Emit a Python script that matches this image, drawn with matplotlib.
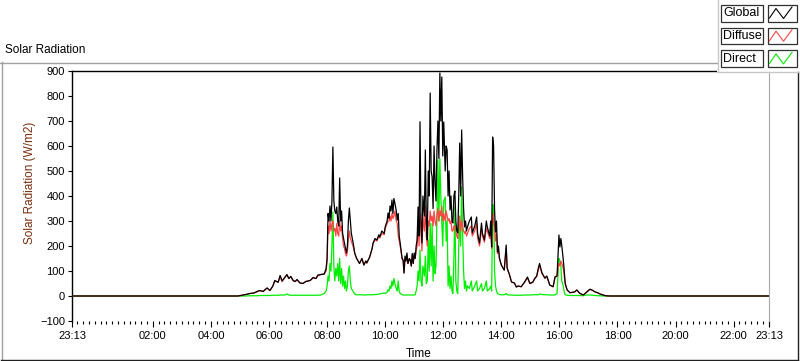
import matplotlib.pyplot as plt
from matplotlib.patches import Rectangle
from matplotlib.lines import Line2D

plt.rcParams['font.family'] = ['Liberation Sans', 'DejaVu Sans']

# time of each reading, minutes since midnight (-47 = 23:13 the day before)
minutes = [
    -47, 240, 296, 304, 312, 321, 329, 335, 341, 348, 352, 356, 362, 368, 372, 379, 383, 387,
    393, 397, 401, 405, 410, 414, 418, 424, 430, 436, 445, 451, 457, 461, 467, 474, 478,
    480, 482, 484, 486, 488, 490, 492, 494, 496, 498, 500, 502, 504, 506, 508, 510, 512, 514,
    516, 518, 520, 522, 524, 526, 528, 530, 535, 537, 541, 543, 547, 552, 556, 560, 562, 566,
    568, 573, 575, 579, 583, 587, 589, 593, 598,
    600, 604, 606, 608, 610, 612, 614, 616, 618, 620, 623, 625, 627, 629, 631, 633, 635, 637,
    639, 641, 643, 645, 647, 650, 652, 654, 656, 658, 660, 662, 664, 666,
    668, 670, 672, 674, 676, 678, 681, 683, 685, 687, 689, 691, 693, 695, 697, 699, 701, 703,
    705, 707, 709, 711, 713, 715, 717, 719, 721, 724, 726, 728, 730, 732, 734, 736, 738, 740,
    742, 744, 746, 748, 750, 752, 754, 756, 758, 760, 762, 764, 766, 768, 770,
    774, 778, 780, 785, 789, 791, 795, 799, 801, 805, 809, 811, 816, 818, 820, 822, 824, 826,
    828, 830, 832, 834, 836,
    840, 844, 846, 850, 852, 857, 861, 867, 871, 875, 881, 888, 894, 899, 905, 909, 913, 917,
    919, 924, 930, 934, 940, 947, 951, 955, 957, 959, 961, 963, 965, 968, 970, 972, 976, 982,
    988, 992, 996, 1002, 1009, 1013, 1017, 1023, 1029, 1033, 1040, 1044, 1050, 1056, 1064, 1393,
]

global_rad = [
    0, 0, 0, 3, 6, 10, 12, 18, 22, 18, 26, 32, 22, 40, 62, 55, 82, 60,
    75, 86, 70, 78, 62, 58, 66, 52, 50, 58, 62, 74, 70, 84, 86, 88, 110,
    150, 330, 300, 360, 300, 380, 596, 380, 340, 330, 356, 300, 280, 472, 300, 340, 252, 230,
    210, 190, 172, 200, 300, 352, 300, 252, 200, 172, 150, 144, 130, 150, 124, 140, 132, 148,
    156, 190, 212, 230, 224, 245, 236, 260, 250,
    276, 300, 332, 310, 360, 340, 384, 330, 390, 372, 340, 304, 330, 240, 212, 180, 150, 144,
    92, 160, 140, 172, 130, 150, 144, 120, 170, 130, 172, 150, 200, 224,
    356, 240, 697, 300, 212, 400, 320, 584, 300, 224, 500, 400, 812, 500, 476, 350, 600, 452,
    380, 584, 700, 550, 892, 700, 876, 560, 696, 500, 600, 584, 400, 500, 344, 400, 300, 292,
    400, 420, 300, 260, 252, 400, 612, 400, 664, 480, 350, 276, 300, 260, 276,
    300, 316, 252, 280, 316, 250, 212, 292, 250, 224, 300, 276, 240, 300, 196, 636, 600, 344,
    256, 300, 176, 200, 152,
    124, 110, 104, 204, 112, 84, 56, 52, 36, 40, 37, 56, 76, 50, 56, 70, 80, 116,
    130, 92, 72, 80, 44, 37, 77, 80, 156, 244, 196, 230, 200, 144, 100, 50, 24, 13,
    15, 17, 24, 11, 4, 10, 17, 27, 22, 17, 12, 8, 4, 1, 0, 0,
]

diffuse = [
    0, 0, 0, 3, 6, 10, 12, 16, 22, 18, 24, 32, 22, 40, 60, 55, 80, 58,
    75, 84, 70, 78, 60, 58, 64, 52, 50, 58, 62, 72, 70, 80, 86, 88, 100,
    140, 280, 250, 300, 260, 290, 300, 260, 270, 240, 290, 250, 240, 300, 260, 280, 230, 200,
    190, 170, 160, 180, 230, 260, 230, 220, 190, 172, 150, 144, 130, 150, 124, 140, 132, 148,
    156, 188, 210, 225, 220, 240, 232, 250, 245,
    270, 290, 300, 300, 320, 300, 330, 310, 320, 340, 300, 290, 240, 220, 200, 175, 150, 144,
    92, 150, 140, 165, 130, 150, 140, 120, 165, 130, 165, 150, 180, 200,
    300, 200, 330, 250, 180, 320, 260, 360, 240, 200, 300, 280, 340, 300, 320, 280, 340, 300,
    280, 320, 350, 300, 340, 320, 360, 300, 330, 300, 340, 320, 300, 310, 290, 300, 260, 260,
    280, 280, 260, 240, 230, 280, 320, 260, 300, 280, 260, 250, 260, 240, 250,
    270, 280, 240, 260, 290, 230, 200, 270, 240, 215, 270, 260, 230, 280, 190, 330, 300, 280,
    220, 250, 170, 190, 150,
    124, 110, 104, 190, 112, 84, 56, 52, 36, 40, 37, 54, 72, 50, 54, 68, 78, 110,
    120, 90, 70, 78, 44, 37, 75, 78, 110, 130, 120, 140, 130, 110, 80, 48, 24, 13,
    15, 17, 24, 11, 4, 10, 17, 27, 22, 17, 12, 8, 4, 1, 0, 0,
]

direct = [
    0, 0, 0, 0, 0, 1, 1, 1, 2, 2, 2, 2, 2, 3, 3, 3, 4, 4,
    4, 8, 4, 3, 3, 3, 3, 3, 3, 3, 3, 3, 3, 3, 4, 10, 20,
    40, 80, 60, 130, 100, 200, 336, 120, 60, 110, 80, 130, 60, 150, 50, 110, 40, 80,
    30, 60, 20, 40, 100, 120, 60, 30, 15, 8, 5, 5, 5, 5, 4, 4, 5, 5,
    5, 5, 5, 6, 6, 8, 8, 10, 12,
    10, 15, 25, 20, 40, 30, 60, 40, 70, 50, 30, 20, 60, 20, 10, 8, 5, 4,
    4, 4, 4, 4, 4, 4, 4, 4, 4, 4, 4, 5, 20, 40,
    100, 60, 184, 60, 40, 120, 80, 160, 50, 60, 224, 100, 292, 120, 290, 60, 200, 90,
    120, 300, 544, 300, 548, 400, 292, 200, 380, 396, 220, 300, 40, 120, 30, 80, 20, 10,
    150, 356, 60, 20, 10, 200, 300, 200, 436, 250, 100, 30, 60, 20, 40,
    30, 60, 20, 40, 60, 20, 30, 50, 20, 30, 60, 20, 30, 40, 20, 364, 364, 100,
    40, 20, 10, 8, 6,
    5, 5, 5, 10, 5, 4, 4, 3, 3, 3, 3, 4, 4, 4, 5, 5, 5, 5,
    8, 6, 5, 5, 4, 4, 4, 10, 80, 150, 140, 120, 60, 40, 15, 5, 3, 2,
    2, 2, 2, 2, 1, 3, 4, 4, 3, 2, 1, 1, 0, 0, 0, 0,
]

x_start, x_end = -47, 1393
tick_pos = [-47, 120, 240, 360, 480, 600, 720, 840, 960, 1080, 1200, 1320, 1393]
tick_labels = ['23:13', '02:00', '04:00', '06:00', '08:00', '10:00', '12:00',
               '14:00', '16:00', '18:00', '20:00', '22:00', '23:13']
y_ticks = list(range(-100, 901, 100))

fig = plt.figure(figsize=(8.0, 3.61), dpi=100)
ax = fig.add_axes([72 / 800, 1 - 321 / 361, 697 / 800, 250 / 361])

ax.plot(minutes, direct, color='#00ee00', lw=0.9, zorder=2)
ax.plot(minutes, diffuse, color='#ff4545', lw=0.9, zorder=3)
ax.plot(minutes, global_rad, color='black', lw=0.9, zorder=4)

ax.set_xlim(x_start, x_end)
ax.set_ylim(-100, 900)
ax.set_yticks(y_ticks)
ax.set_xticks(tick_pos)
ax.set_xticklabels(tick_labels)
ax.set_xticks(list(range(-36, 1393, 12)), minor=True)
ax.tick_params(axis='both', labelsize=8, direction='out', width=0.8)
ax.tick_params(axis='y', length=3, pad=2)
ax.tick_params(axis='x', which='major', length=4, pad=3)
ax.tick_params(axis='x', which='minor', length=2.2, width=0.8)

for side in ('left', 'top'):
    ax.spines[side].set_color('black')
    ax.spines[side].set_linewidth(1.0)
ax.spines['right'].set_color('#a8a8a8')
ax.spines['bottom'].set_visible(False)

fig.text(30 / 800, 1 - 183 / 361, 'Solar Radiation (W/m2)', rotation=90,
         ha='center', va='center', fontsize=8.5, color='#7a2e0e')
fig.text(419 / 800, 1 - 354 / 361, 'Time', ha='center', va='center', fontsize=8.5)
fig.text(5 / 800, 1 - 50 / 361, 'Solar Radiation', ha='left', va='center', fontsize=8.5)

# panel frame and legend, drawn in pixel coordinates
deco = fig.add_axes([0, 0, 1, 1], zorder=5)
deco.set_xlim(0, 800)
deco.set_ylim(361, 0)
deco.axis('off')
deco.patch.set_visible(False)

deco.add_line(Line2D([0, 717], [62.5, 62.5], color='#a0a0a0', lw=1))
deco.add_line(Line2D([1.5, 1.5], [62, 360], color='#a0a0a0', lw=1))
deco.add_line(Line2D([1, 798], [359.5, 359.5], color='#202020', lw=1))
deco.add_line(Line2D([797.5, 797.5], [72, 360], color='#202020', lw=1))

deco.add_patch(Rectangle((717, 0), 83, 72, facecolor='white', edgecolor='none'))
deco.add_line(Line2D([717.5, 717.5], [0, 72], color='#c8c8c8', lw=1))
deco.add_line(Line2D([717.5, 800], [72, 72], color='#c8c8c8', lw=1))

names = ['Global', 'Diffuse', 'Direct']
colors = ['black', '#ff4545', '#00ee00']
for i, (name, col) in enumerate(zip(names, colors)):
    top = 5 + i * 22.7
    deco.add_patch(Rectangle((721, top), 42, 16.5, facecolor='white',
                             edgecolor='#303030', lw=0.9))
    deco.add_patch(Rectangle((767.5, top), 29, 16.5, facecolor='white',
                             edgecolor='#303030', lw=0.9))
    deco.text(723, top + 8.5, name, ha='left', va='center', fontsize=9)
    zx = [769.5, 776, 783.5, 792]
    zy = [top + 13, top + 3.5, top + 13.5, top + 2]
    deco.add_line(Line2D(zx, zy, color=col, lw=0.8))

fig.savefig('out.png', dpi=100)
